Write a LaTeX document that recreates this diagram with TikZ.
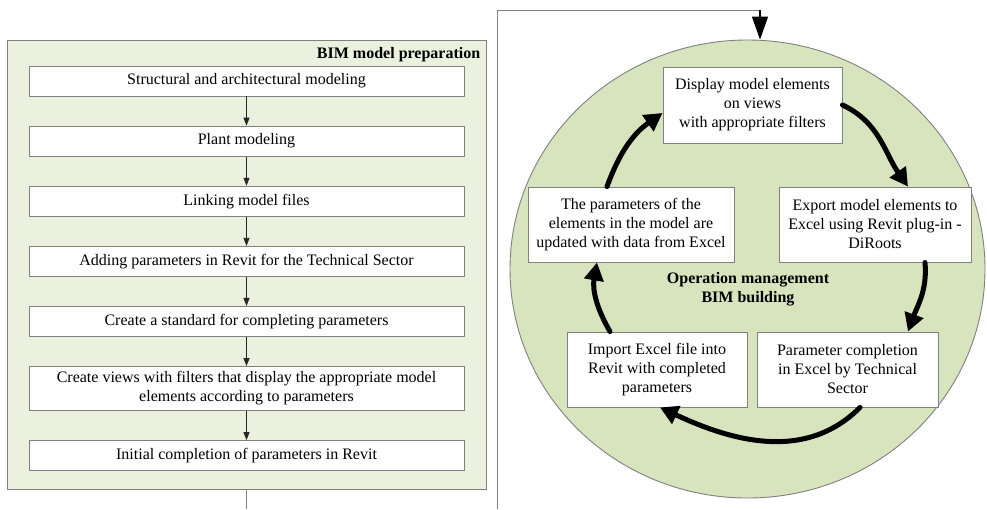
\documentclass[tikz,border=0pt]{standalone}
\usepackage{fontspec}
\setmainfont{Liberation Serif}
\usepackage{tikz}
\usetikzlibrary{positioning,shapes.geometric,arrows.meta}
\usepackage{xcolor}
\definecolor{framegray}{RGB}{128,128,128}
\definecolor{prepgreen}{RGB}{235,241,222}
\definecolor{cyclegreen}{RGB}{215,228,189}

\begin{document}
\begin{tikzpicture}[
    x=1pt, y=1pt,
    node distance=29.2pt,
    panel/.style={rectangle, draw=framegray, fill=prepgreen, line width=0.9pt,
                  minimum width=479pt, minimum height=449pt},
    task/.style={rectangle, draw=framegray, fill=white, line width=0.9pt,
                 minimum width=435pt, minimum height=30pt, align=center,
                 inner sep=2pt, font=\fontsize{16}{19}\selectfont},
    cyclebox/.style={rectangle, draw=framegray, fill=white, line width=0.9pt,
                     minimum height=75pt, align=center,
                     inner sep=2pt, font=\fontsize{16}{19}\selectfont},
    heading/.style={font=\fontsize{16}{19}\selectfont\bfseries},
    arrow/.style={-{Triangle[length=8pt,width=6pt]}, line width=0.8pt, draw=black!85},
    cyclearrow/.style={-{Triangle[length=18pt,width=19pt]}, line width=5pt, line cap=round},
    feed/.style={line width=1pt, draw=framegray}
]

\useasboundingbox (0,0) rectangle (987,-509);

\node[panel] (prep) at (246.5,-264.5) {};
\node[heading, anchor=north east, inner sep=3pt, xshift=-3pt, yshift=-5pt] (preptitle) at (prep.north east) {BIM model preparation};

\node[task] (t1) at (246.5,-81) {Structural and architectural modeling};
\node[task, below=of t1] (t2) {Plant modeling};
\node[task, below=of t2] (t3) {Linking model files};
\node[task, below=of t3] (t4) {Adding parameters in Revit for the Technical Sector};
\node[task, below=of t4] (t5) {Create a standard for completing parameters};
\node[task, below=of t5, minimum height=44pt] (t6) {Create views with filters that display the appropriate model\\elements according to parameters};
\node[task, below=of t6] (t7) {Initial completion of parameters in Revit};

\draw[arrow] (t1) -- (t2);
\draw[arrow] (t2) -- (t3);
\draw[arrow] (t3) -- (t4);
\draw[arrow] (t4) -- (t5);
\draw[arrow] (t5) -- (t6);
\draw[arrow] (t6) -- (t7);

\coordinate (prepout) at (246.5,-509);
\draw[feed] (prep.south) -- (prepout);

\node[ellipse, draw=framegray, fill=cyclegreen, line width=0.9pt, inner sep=0pt,
      minimum width=475pt, minimum height=458pt] (cycle) at (747.5,-269) {};

\coordinate (loopin) at (497,-509);
\coordinate (turn) at (760,-10);
\draw[feed] (loopin) |- (turn);
\draw[line width=1.2pt, -{Triangle[length=23pt,width=16pt]}] (turn) -- (turn |- cycle.north);

\node[cyclebox, minimum width=179pt, minimum height=76pt] (display) at (752.5,-105) {Display model elements\\on views\\with appropriate filters};
\node[cyclebox, minimum width=192pt] (export) at (875,-224.5) {Export model elements to\\Excel using Revit plug-in -\\DiRoots};
\node[cyclebox, minimum width=181pt] (complete) at (847.5,-369.5) {Parameter completion\\in Excel by Technical\\Sector};
\node[cyclebox, minimum width=180pt] (import) at (657,-369.5) {Import Excel file into\\Revit with completed\\parameters};
\node[cyclebox, minimum width=206pt] (update) at (631,-224.5) {The parameters of the\\elements in the model are\\updated with data from Excel};

\node[heading, align=center] (opmgmt) at (748,-289) {Operation management\\BIM building};

\draw[cyclearrow] (display.east) to[out=-25, in=125] ([xshift=33pt]export.north);
\draw[cyclearrow] ([xshift=50pt]export.south) to[out=-85, in=70] ([xshift=60.5pt]complete.north);
\draw[cyclearrow] ([xshift=12.5pt]complete.south) to[out=-135, in=-25] ([xshift=3pt]import.south);
\draw[cyclearrow] ([xshift=-47pt]import.north) to[out=120, in=-100] ([xshift=-34pt]update.south);
\draw[cyclearrow] ([xshift=-24pt]update.north) to[out=70, in=-145] ([yshift=-8pt]display.west);

\end{tikzpicture}
\end{document}
